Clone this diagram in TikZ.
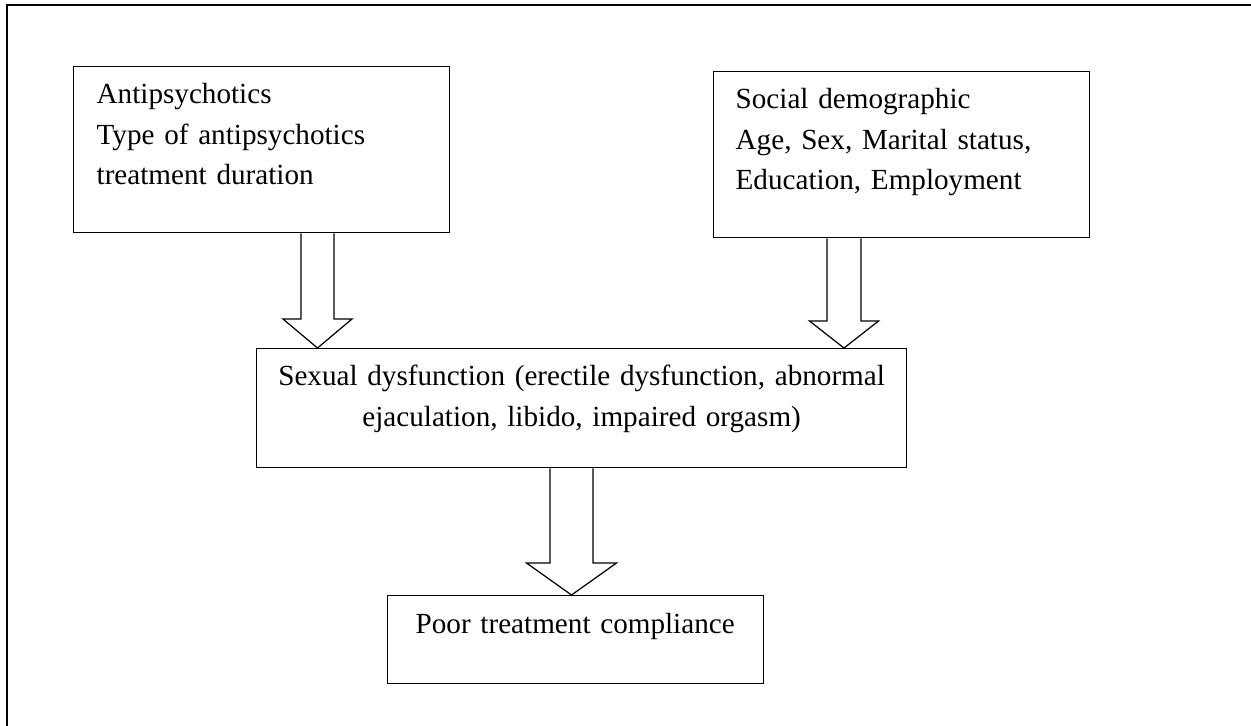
\documentclass[tikz,border=0pt]{standalone}
\usepackage{fontspec}
\setmainfont{Liberation Serif}
\usetikzlibrary{calc}

% hollow block arrow: centre x, from node, to node, half shaft, half head, head length
\newcommand\fatarrow[6]{%
  \draw[fat] (#1-#4,0 |- #2.south) -- ($(#1-#4,0 |- #3.north)+(0,-#6)$)
    -- ($(#1-#5,0 |- #3.north)+(0,-#6)$) -- (#1,0 |- #3.north)
    -- ($(#1+#5,0 |- #3.north)+(0,-#6)$) -- ($(#1+#4,0 |- #3.north)+(0,-#6)$)
    -- (#1+#4,0 |- #2.south);}

\begin{document}
\begin{tikzpicture}[x=0.02cm,y=-0.02cm,
  box/.style={draw,line width=0.75pt,anchor=north west,inner ysep=0pt,
    font=\fontsize{16.6}{23}\selectfont,text height=0.74cm},
  fat/.style={draw,line width=0.7pt,fill=white,line join=miter},
  frame/.style={draw,line width=1.5pt}]
  \useasboundingbox (0,0) rectangle (1251,725);
  \draw[frame] (7,5) rectangle (1265,740);
  \node[box,inner xsep=0.46cm,text width=6.6cm,text depth=2.58cm,align=left] (antip) at (73,66)
    {Antipsychotics\\Type of antipsychotics\\treatment duration};
  \node[box,inner xsep=0.44cm,text width=6.64cm,text depth=2.58cm,align=left] (socdem) at (713,71)
    {Social demographic\\Age, Sex, Marital status,\\Education, Employment};
  \node[box,inner xsep=0.2cm,text width=12.6cm,text depth=1.64cm,align=center] (sexdys) at (256,348)
    {Sexual dysfunction (erectile dysfunction, abnormal\\ejaculation, libido, impaired orgasm)};
  \node[box,inner xsep=0.56cm,text width=6.4cm,text height=0.76cm,text depth=1.0cm,align=left] (comply) at (387,595)
    {Poor treatment compliance};
  \fatarrow{317.5}{antip}{sexdys}{16.5}{34.5}{29}
  \fatarrow{844}{socdem}{sexdys}{17}{34.5}{27}
  \fatarrow{571.5}{sexdys}{comply}{21.5}{45}{32}
\end{tikzpicture}
\end{document}
